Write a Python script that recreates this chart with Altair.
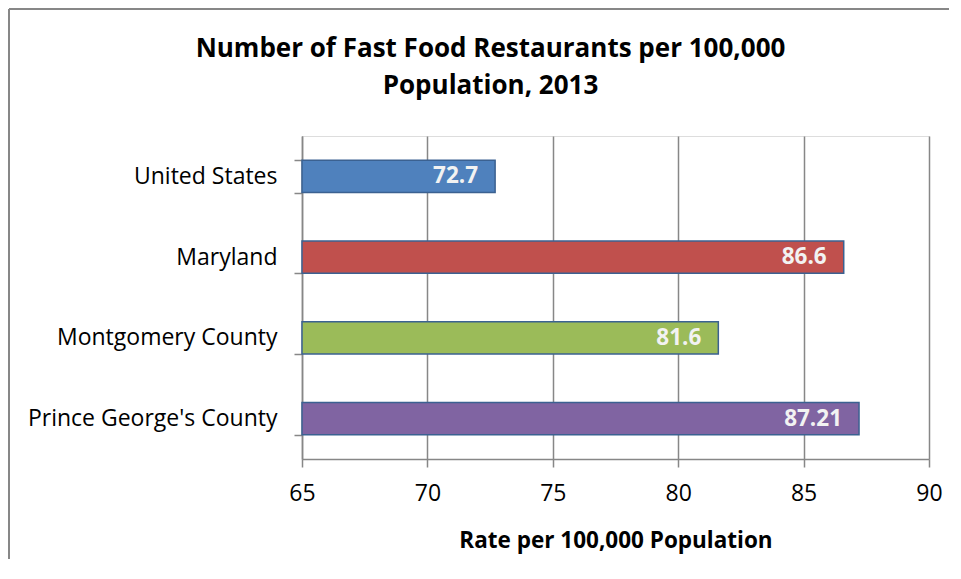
import altair as alt
import pandas as pd

categories = ["United States", "Maryland", "Montgomery  County", "Prince George's County"]
values = [72.7, 86.6, 81.6, 87.21]
labels = ["72.7", "86.6", "81.6", "87.21"]
colors = ["#4F81BD", "#C0504D", "#9BBB59", "#8064A2"]

df = pd.DataFrame({"cat": categories, "value": values, "label": labels})

FONT = "Open Sans"
GRAY = "#878787"

y_enc = alt.Y("cat:N", sort=categories, title=None,
              scale=alt.Scale(paddingInner=0.6, paddingOuter=0.3),
              axis=alt.Axis(tickBand="extent", grid=False, tickSize=8,
                            tickColor=GRAY, tickWidth=1.5, domainColor=GRAY,
                            domainWidth=1.5, labelFont=FONT, labelFontSize=23,
                            labelColor="#000000", labelPadding=17,
                            labelLimit=400))

x_scale = alt.Scale(domain=[65, 90], zero=False, nice=False)

bars = alt.Chart(df).mark_bar(stroke="#3B6191", strokeWidth=1.5).encode(
    x=alt.X("value:Q", scale=x_scale, title="Rate per 100,000 Population",
            axis=alt.Axis(values=[65, 70, 75, 80, 85, 90], grid=True,
                          gridColor=GRAY, gridWidth=1.5, tickSize=8,
                          tickColor=GRAY, tickWidth=1.5, domainColor=GRAY,
                          domainWidth=1.5, labelFont=FONT, labelFontSize=23,
                          labelColor="#000000", labelPadding=15, labelFlush=False,
                          titleFont=FONT, titleFontSize=22.5, titleFontWeight="bold",
                          titleColor="#000000", titlePadding=24)),
    x2=alt.datum(65),
    y=y_enc,
    color=alt.Color("cat:N", scale=alt.Scale(domain=categories, range=colors), legend=None),
)

text = alt.Chart(df).mark_text(align="right", baseline="middle", dx=-17,
                               font=FONT, fontSize=22.5, fontWeight="bold",
                               color="#F2F2F2").encode(
    x=alt.X("value:Q", scale=x_scale),
    y=alt.Y("cat:N", sort=categories),
    text="label:N",
)

one = pd.DataFrame({"a": [0]})
frame_left = alt.Chart(one).mark_rule(color=GRAY, strokeWidth=2).encode(
    x=alt.value(-293), y=alt.value(-127), y2=alt.value(423))
frame_top = alt.Chart(one).mark_rule(color=GRAY, strokeWidth=2).encode(
    x=alt.value(-293), x2=alt.value(647), y=alt.value(-127))

chart = alt.layer(frame_left, frame_top, bars, text).properties(
    width=627, height=323,
    title=alt.TitleParams(["Number of Fast Food Restaurants per 100,000", "Population, 2013"],
                          font=FONT, fontSize=26, fontWeight="bold", color="#000000",
                          anchor="middle", dx=-125, offset=-91, lineHeight=37),
    padding={"left": 294, "top": 128, "right": 20, "bottom": 100},
    autosize=alt.AutoSizeParams(type="none"),
).configure_view(fill="#E6E6E6", stroke="transparent").configure(background="white")

chart.save("out.html", embed_options={"renderer": "svg", "actions": False})
